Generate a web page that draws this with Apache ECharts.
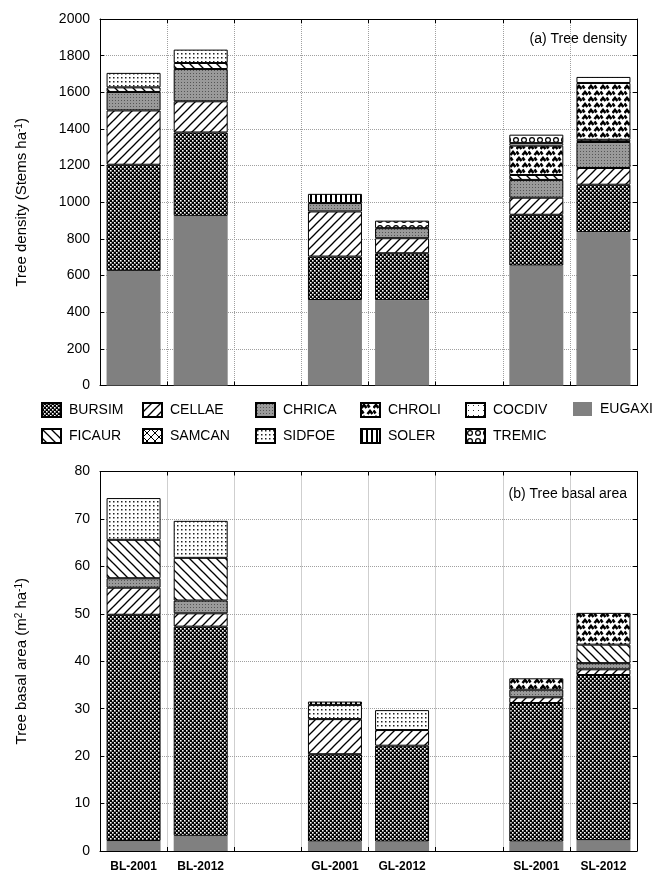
<!DOCTYPE html>
<html><head><meta charset="utf-8">
<script src="https://cdn.jsdelivr.net/npm/echarts@6/dist/echarts.min.js"></script>
<style>html,body{margin:0;padding:0;background:#fff}#c{width:670px;height:877px}</style>
</head><body><div id="c"></div>
<script>
// ---------- DATA ----------
const categories = ['BL-2001','BL-2012','','GL-2001','GL-2012',' ','SL-2001','SL-2012'];
const stackOrder = ['EUGAXI','BURSIM','CELLAE','CHRICA','FICAUR','CHROLI','SAMCAN','COCDIV','SIDFOE','SOLER','TREMIC'];
const legendOrder = ['BURSIM','CELLAE','CHRICA','CHROLI','COCDIV','EUGAXI','FICAUR','SAMCAN','SIDFOE','SOLER','TREMIC'];
// (a) Tree density (stems/ha)
const densEUGAXI = [626, 926, null, 467, 466, null, 655, 837];
const densBURSIM = [579, 455, null, 237, 256, null, 277, 259];
const densCELLAE = [296, 170, null, 246, 82, null, 93, 91];
const densCHRICA = [101, 176, null, 46, 55, null, 97, 142];
const densFICAUR = [25, 33, null, null, null, null, 27, 12];
const densCHROLI = [null, null, null, null, null, null, 160, 310];
const densSAMCAN = [null, null, null, null, null, null, null, null];
const densCOCDIV = [null, null, null, null, null, null, 14, 33];
const densSIDFOE = [79, 73, null, null, null, null, null, null];
const densSOLER  = [null, null, null, 50, null, null, null, null];
const densTREMIC = [null, null, null, null, 41, null, 46, null];
// (b) Tree basal area (m2/ha)
const baEUGAXI = [2.1, 3.2, null, 2.0, 2.0, null, 2.0, 2.3];
const baBURSIM = [47.7, 44.1, null, 18.4, 20.2, null, 29.2, 34.8];
const baCELLAE = [5.7, 2.8, null, 7.4, 3.3, null, 1.2, 1.2];
const baCHRICA = [2.0, 2.7, null, null, null, null, 1.6, 1.3];
const baFICAUR = [8.1, 9.0, null, null, null, null, null, 3.9];
const baCHROLI = [null, null, null, null, null, null, 2.4, 6.7];
const baSAMCAN = [null, null, null, null, null, null, null, null];
const baCOCDIV = [null, null, null, null, null, null, null, null];
const baSIDFOE = [8.8, 7.8, null, 3.0, 4.2, null, null, null];
const baSOLER  = [null, null, null, 0.7, null, null, null, null];
const baTREMIC = [null, null, null, null, null, null, null, null];
const densTicks = {min:0, max:2000, interval:200};
const baTicks = {min:0, max:80, interval:10};

const dens = {EUGAXI:densEUGAXI,BURSIM:densBURSIM,CELLAE:densCELLAE,CHRICA:densCHRICA,FICAUR:densFICAUR,CHROLI:densCHROLI,SAMCAN:densSAMCAN,COCDIV:densCOCDIV,SIDFOE:densSIDFOE,SOLER:densSOLER,TREMIC:densTREMIC};
const ba = {EUGAXI:baEUGAXI,BURSIM:baBURSIM,CELLAE:baCELLAE,CHRICA:baCHRICA,FICAUR:baFICAUR,CHROLI:baCHROLI,SAMCAN:baSAMCAN,COCDIV:baCOCDIV,SIDFOE:baSIDFOE,SOLER:baSOLER,TREMIC:baTREMIC};

// ---------- PATTERNS ----------
function pat(w,h,draw,bg){
  const c=document.createElement('canvas'); c.width=w; c.height=h;
  const g=c.getContext('2d'); g.fillStyle=bg||'#fff'; g.fillRect(0,0,w,h); draw(g);
  return {image:c, repeat:'repeat'};
}
function diag(g,s,dir,lw){
  g.strokeStyle='#000'; g.lineWidth=lw;
  for(let k=-1;k<=1;k++){
    g.beginPath();
    if(dir>0){ g.moveTo(k*s-1,s+1); g.lineTo(k*s+s+1,-1); }
    else { g.moveTo(k*s-1,-1); g.lineTo(k*s+s+1,s+1); }
    g.stroke();
  }
}
const patterns = {
  EUGAXI: '#808080',
  BURSIM: pat(4,4,g=>{g.fillStyle='#fff';g.fillRect(0,0,1.6,1.6);g.fillRect(2,2,1.6,1.6);},'#000'),
  CELLAE: pat(9,9,g=>diag(g,9,1,1.3)),
  CHRICA: pat(3,3,g=>{g.fillStyle='#555';g.fillRect(1,1,1,1);},'#9a9a9a'),
  FICAUR: pat(9,9,g=>diag(g,9,-1,1.3)),
  CHROLI: pat(12,12,g=>{g.strokeStyle='#000';g.lineWidth=2.6;g.lineCap='butt';
    const pl=(pts)=>{g.beginPath();g.moveTo(pts[0][0],pts[0][1]);for(let i=1;i<pts.length;i++)g.lineTo(pts[i][0],pts[i][1]);g.stroke();};
    pl([[0.5,5],[3,2],[5.5,5]]); pl([[6.5,11],[9,8],[11.5,11]]); pl([[6.5,1.5],[8.5,4.5]]); pl([[0.5,7.5],[2.5,10.5]]);}),
  SAMCAN: pat(8,8,g=>{diag(g,8,1,1);diag(g,8,-1,1);}),
  COCDIV: pat(5,5,g=>{g.fillStyle='#333';g.fillRect(2,2,1,1);}),
  SIDFOE: pat(4,4,g=>{g.fillStyle='#222';g.fillRect(1,1,1.5,1.5);}),
  SOLER: pat(5,5,g=>{g.fillStyle='#000';g.fillRect(0,0,2,5);}),
  TREMIC: pat(8,8,g=>{g.strokeStyle='#000';g.lineWidth=1.2;g.beginPath();g.arc(4,4,2.4,0,Math.PI*2);g.stroke();})
};

// ---------- CHART ----------
const FONT='Liberation Sans, Arial, sans-serif';
const chart = echarts.init(document.getElementById('c'), null, {renderer:'canvas'});
const grids = [
  {left:100, top:19, width:537, height:366.6},
  {left:100, top:471.5, width:537, height:379.5}
];
const dotted = {show:true, lineStyle:{type:'dotted', color:'#a0a0a0', width:1}};
const axLine = {show:true, onZero:false, lineStyle:{color:'#000', width:1}};
const tickIn = {show:true, inside:true, length:4, lineStyle:{color:'#000'}};
const plain = v => String(v);
const xAxes = [
  {type:'category', gridIndex:0, position:'bottom', data:categories, axisLine:axLine, axisTick:tickIn, axisLabel:{show:false}, splitLine:dotted},
  {type:'category', gridIndex:1, position:'bottom', data:categories, axisLine:axLine, axisTick:tickIn,
   axisLabel:{show:true, interval:0, color:'#000', fontFamily:FONT, fontSize:12, fontWeight:'bold', margin:10}, splitLine:dotted},
  {type:'category', gridIndex:0, position:'top', data:categories, axisLine:axLine, axisTick:tickIn, axisLabel:{show:false}, splitLine:{show:false}},
  {type:'category', gridIndex:1, position:'top', data:categories, axisLine:axLine, axisTick:tickIn, axisLabel:{show:false}, splitLine:{show:false}}
];
const nameStyle = {color:'#000', fontFamily:FONT, fontSize:15, rich:{sup:{fontSize:10, fontFamily:FONT, color:'#000', verticalAlign:'top', padding:[0,0,6,0]}}};
const yAxes = [
  Object.assign({type:'value', gridIndex:0, position:'left', name:'Tree density (Stems ha{sup|-1})', nameLocation:'middle', nameGap:70,
   nameTextStyle:nameStyle, axisLine:axLine, axisTick:tickIn,
   axisLabel:{color:'#000', fontFamily:FONT, fontSize:14, margin:10, formatter:plain}, splitLine:dotted}, densTicks),
  Object.assign({type:'value', gridIndex:1, position:'left', name:'Tree basal area (m{sup|2} ha{sup|-1})', nameLocation:'middle', nameGap:70,
   nameTextStyle:nameStyle, axisLine:axLine, axisTick:tickIn,
   axisLabel:{color:'#000', fontFamily:FONT, fontSize:14, margin:10, formatter:plain}, splitLine:dotted}, baTicks),
  Object.assign({type:'value', gridIndex:0, position:'right', axisLine:axLine, axisTick:tickIn, axisLabel:{show:false}, splitLine:{show:false}}, densTicks),
  Object.assign({type:'value', gridIndex:1, position:'right', axisLine:axLine, axisTick:tickIn, axisLabel:{show:false}, splitLine:{show:false}}, baTicks)
];
const series = [];
stackOrder.forEach(name=>{
  const isGray = name==='EUGAXI';
  const itemStyle = {color:patterns[name], borderColor:isGray?'#808080':'#000', borderWidth:isGray?0:1};
  series.push({name, type:'bar', stack:'a', xAxisIndex:0, yAxisIndex:0, barWidth:54, data:dens[name], itemStyle, emphasis:{disabled:true}});
  series.push({name, type:'bar', stack:'b', xAxisIndex:1, yAxisIndex:1, barWidth:54, data:ba[name], itemStyle, emphasis:{disabled:true}});
});
// legend laid out in two rows of aligned columns
const legendCols = [36, 137, 250, 355, 460, 568];
const legends = legendOrder.map((name,i)=>{
  const row = i<6?0:1, col = i<6?i:i-6;
  return {data:[name], left:legendCols[col], top: row===0?397:423, itemWidth:19, itemHeight:14, icon:'rect',
    itemGap:0, selectedMode:false, textStyle:{color:'#000', fontFamily:FONT, fontSize:14, padding:[0,0,0,3]}};
});
chart.setOption({
  animation:false,
  backgroundColor:'#fff',
  grid:grids,
  xAxis:xAxes,
  yAxis:yAxes,
  legend:legends,
  series,
  graphic:[
    {type:'text', right:670-627, top:32, style:{text:'(a) Tree density', fontFamily:FONT, fontSize:14, fill:'#000'}},
    {type:'text', right:670-627, top:487, style:{text:'(b) Tree basal area', fontFamily:FONT, fontSize:14, fill:'#000'}}
  ]
});
</script></body></html>
